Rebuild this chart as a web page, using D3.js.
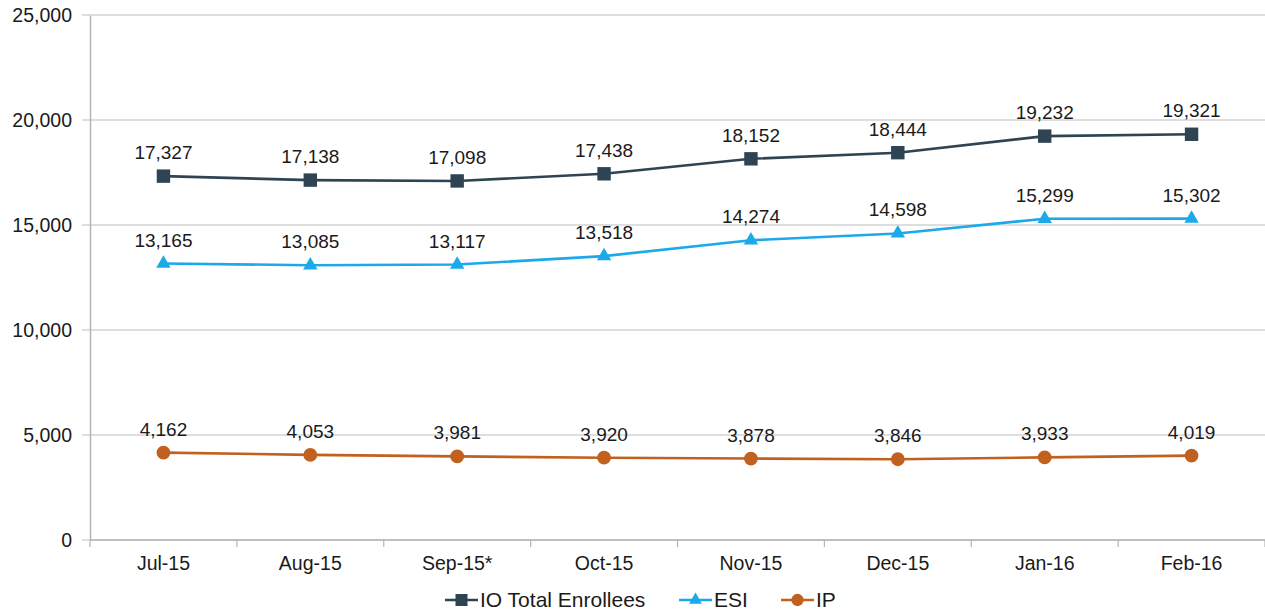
<!DOCTYPE html>
<html>
<head>
<meta charset="utf-8">
<script src="https://cdn.jsdelivr.net/npm/d3@7"></script>
<style>
  body { margin: 0; background: #fff; }
  text { font-family: "Liberation Sans", Arial, sans-serif; fill: #1a1a1a; }
</style>
</head>
<body>
<div id="chart"></div>
<script>
const months = ['Jul-15', 'Aug-15', 'Sep-15*', 'Oct-15', 'Nov-15', 'Dec-15', 'Jan-16', 'Feb-16'];
const totalEnrollees = [17327, 17138, 17098, 17438, 18152, 18444, 19232, 19321];
const esi = [13165, 13085, 13117, 13518, 14274, 14598, 15299, 15302];
const ip = [4162, 4053, 3981, 3920, 3878, 3846, 3933, 4019];
const yTicks = [0, 5000, 10000, 15000, 20000, 25000];

const series = [
    { name: 'IO Total Enrollees', values: totalEnrollees, color: '#2e4453', symbol: d3.symbolSquare, size: 180 },
    { name: 'ESI', values: esi, color: '#1ba9ea', symbol: d3.symbolTriangle, size: 90 },
    { name: 'IP', values: ip, color: '#c1601f', symbol: d3.symbolCircle, size: 150 }
];

const width = 1265, height = 613;
const margin = { top: 15, right: 0, bottom: 73, left: 90 };

const svg = d3.select('#chart')
    .append('svg')
    .attr('width', width)
    .attr('height', height);

const chart = svg.append('g').attr('transform', `translate(${margin.left}, ${margin.top})`);
const innerW = width - margin.left - margin.right;
const innerH = height - margin.top - margin.bottom;

const x = d3.scaleBand().domain(months).range([0, innerW]);
const y = d3.scaleLinear().domain([0, 25000]).range([innerH, 0]);

// gridlines
chart.append('g')
    .selectAll('line')
    .data(yTicks)
    .join('line')
    .attr('x1', -8)
    .attr('x2', innerW)
    .attr('y1', d => y(d))
    .attr('y2', d => y(d))
    .attr('stroke', '#bdbdbd')
    .attr('stroke-width', 1.2);

// y axis
const yAxis = chart.append('g')
    .call(d3.axisLeft(y).tickValues(yTicks).tickFormat(d3.format(',')).tickSize(0).tickPadding(18));
yAxis.select('.domain').attr('stroke', '#b5b5b5').attr('stroke-width', 1.5);
yAxis.selectAll('text').attr('font-size', 19.5).attr('fill', '#1a1a1a');

// x axis: ticks between categories
const xAxis = chart.append('g').attr('transform', `translate(0, ${innerH})`);
xAxis.append('g')
    .selectAll('line')
    .data(d3.range(months.length + 1))
    .join('line')
    .attr('x1', i => i * x.bandwidth())
    .attr('x2', i => i * x.bandwidth())
    .attr('y1', 0)
    .attr('y2', 7)
    .attr('stroke', '#b5b5b5')
    .attr('stroke-width', 1.2);
xAxis.append('line')
    .attr('x1', 0).attr('x2', innerW)
    .attr('stroke', '#b5b5b5').attr('stroke-width', 1.5);
xAxis.selectAll('.xlabel')
    .data(months)
    .join('text')
    .attr('class', 'xlabel')
    .attr('x', d => x(d) + x.bandwidth() / 2)
    .attr('y', 30)
    .attr('text-anchor', 'middle')
    .attr('font-size', 19.5)
    .text(d => d);

const line = d3.line()
    .x((d, i) => x(months[i]) + x.bandwidth() / 2)
    .y(d => y(d));

series.forEach(s => {
    const g = chart.append('g');
    g.append('path')
        .datum(s.values)
        .attr('fill', 'none')
        .attr('stroke', s.color)
        .attr('stroke-width', 2.6)
        .attr('d', line);

    g.selectAll('.marker')
        .data(s.values)
        .join('path')
        .attr('class', 'marker')
        .attr('transform', (d, i) => `translate(${x(months[i]) + x.bandwidth() / 2}, ${y(d)})`)
        .attr('d', d3.symbol().type(s.symbol).size(s.size))
        .attr('fill', s.color);

    g.selectAll('.label')
        .data(s.values)
        .join('text')
        .attr('class', 'label')
        .attr('x', (d, i) => x(months[i]) + x.bandwidth() / 2)
        .attr('y', d => y(d) - 17)
        .attr('text-anchor', 'middle')
        .attr('font-size', 19)
        .text(d => d3.format(',')(d));
});

// legend
const legendItems = [
    { s: series[0], x: 445 },
    { s: series[1], x: 679 },
    { s: series[2], x: 781 }
];
const legend = svg.append('g').attr('transform', 'translate(0, 600)');
legendItems.forEach(item => {
    const g = legend.append('g').attr('transform', `translate(${item.x}, 0)`);
    g.append('line')
        .attr('x1', 0).attr('x2', 33)
        .attr('stroke', item.s.color).attr('stroke-width', 2.6);
    g.append('path')
        .attr('transform', 'translate(16.5, 0)')
        .attr('d', d3.symbol().type(item.s.symbol).size(item.s.size * 0.8))
        .attr('fill', item.s.color);
    g.append('text')
        .attr('x', 35)
        .attr('y', 7)
        .attr('font-size', 21)
        .text(item.s.name);
});
</script>
</body>
</html>
